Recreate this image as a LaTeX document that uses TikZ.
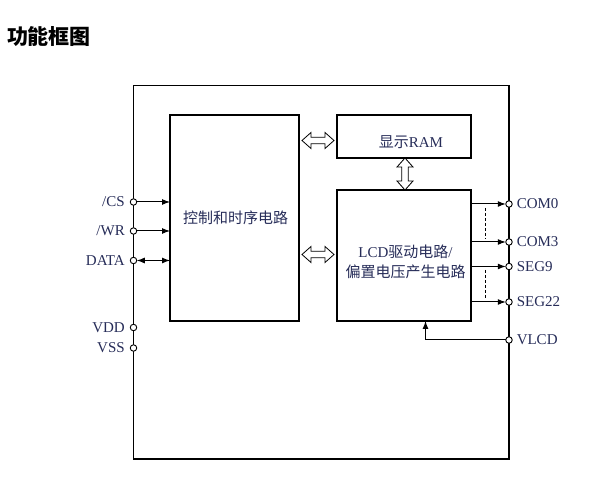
\documentclass[tikz,border=0pt]{standalone}
\usepackage{fontspec}
\setmainfont{Liberation Serif}
\newfontfamily\latin{Liberation Serif}
\newfontfamily\cjk{Noto Sans CJK SC}
\usetikzlibrary{arrows.meta,calc}
\definecolor{txtc}{RGB}{38,44,88}
\begin{document}
\begin{tikzpicture}[x=1pt,y=-1pt,
  every node/.style={outer sep=0pt},
  box/.style={draw,line width=1.1pt,minimum width=#1,anchor=north west,inner sep=0pt},
  pinc/.style={circle,draw,line width=0.9pt,fill=white,minimum size=6.5pt,inner sep=0pt},
  lbl/.style={font=\fontsize{15}{17}\selectfont\latin,text=txtc,inner sep=0pt},
  btxt/.style={font=\fontsize{15}{20}\selectfont\cjk,text=txtc,align=center,inner sep=0pt},
  wire/.style={line width=1pt},
  tip/.style={-{Latex[length=8pt,width=6pt]}},
  hollow/.pic={\draw[line width=0.8pt,fill=white,line join=miter]
    (-16,0) -- (-7,-8) -- (-7,-3.3) -- (7,-3.3) -- (7,-8) -- (16,0) -- (7,8) -- (7,3.3) -- (-7,3.3) -- (-7,8) -- cycle;}
]
\useasboundingbox (0,0) rectangle (598,497);

\node[anchor=west,font=\fontsize{21}{23}\selectfont\cjk\bfseries,inner sep=0pt] (title) at (7,37) {功能框图};

% outer chip
\node[box=375.5pt,minimum height=373.5pt] (chip) at (133.5,85.5) {};

% inner blocks
\node[box=129pt,minimum height=206pt] (ctrl) at (170,115) {};
\node[box=134pt,minimum height=43pt] (ram) at (337,115) {};
\node[box=134pt,minimum height=131pt] (lcd) at (337,190) {};

\node[btxt] (ctrltxt) at (235.5,218) {控制和时序电路};
\node[btxt] (ramtxt) at (411,142) {显示{\latin RAM}};
\node[btxt] (lcdtxt) at (405.5,262) {{\latin LCD}驱动电路{\latin /}\\偏置电压产生电路};

% hollow double arrows
\pic at ($(ctrl.east|-ram.west)!0.5!(ram.west)+(0,4)$) {hollow};
\pic at ($(ctrl.east|-lcd.west)!0.5!(lcd.west)+(0,-1)$) {hollow};
\pic[rotate=90] at ($(ram.south)!0.5!(lcd.north)+(1,0)$) {hollow};

% left pins
\node[pinc,label={[lbl,label distance=5.5pt]left:/CS}] (cs) at (133.5,202) {};
\node[pinc,label={[lbl,label distance=5.5pt]left:/WR}] (wr) at (133.5,231) {};
\node[pinc,label={[lbl,label distance=5.5pt]left:DATA}] (data) at (133.5,260.5) {};
\node[pinc,label={[lbl,label distance=5.5pt]left:VDD}] (vdd) at (133.5,327.5) {};
\node[pinc,label={[lbl,label distance=5.5pt]left:VSS}] (vss) at (133.5,348) {};

\draw[wire,tip] (cs) -- (cs -| ctrl.west);
\draw[wire,tip] (wr) -- (wr -| ctrl.west);
\draw[wire,{Latex[length=8pt,width=6pt]}-{Latex[length=8pt,width=6pt]}] (data) -- (data -| ctrl.west);

% right pins
\node[pinc,label={[lbl,label distance=4.5pt]right:COM0}] (com0) at (509,204) {};
\node[pinc,label={[lbl,label distance=4.5pt]right:COM3}] (com3) at (509,242) {};
\node[pinc,label={[lbl,label distance=4.5pt]right:SEG9}] (seg9) at (509,266.5) {};
\node[pinc,label={[lbl,label distance=4.5pt]right:SEG22}] (seg22) at (509,302) {};
\node[pinc,label={[lbl,label distance=4.5pt]right:VLCD}] (vlcd) at (509,340) {};

\draw[wire,tip] (com0 -| lcd.east) -- (com0);
\draw[wire,tip] (com3 -| lcd.east) -- (com3);
\draw[wire,tip] (seg9 -| lcd.east) -- (seg9);
\draw[wire,tip] (seg22 -| lcd.east) -- (seg22);
\draw[wire,tip] (vlcd) -| ([xshift=21.5pt]lcd.south);

% dashed continuation marks
\coordinate (d1a) at (485,208);
\coordinate (d1b) at (485,239);
\coordinate (d2a) at (485,270);
\coordinate (d2b) at (485,299);
\draw[line width=0.8pt,dash pattern=on 3pt off 2pt] (d1a) -- (d1b);
\draw[line width=0.8pt,dash pattern=on 3pt off 2pt] (d2a) -- (d2b);
\end{tikzpicture}
\end{document}
